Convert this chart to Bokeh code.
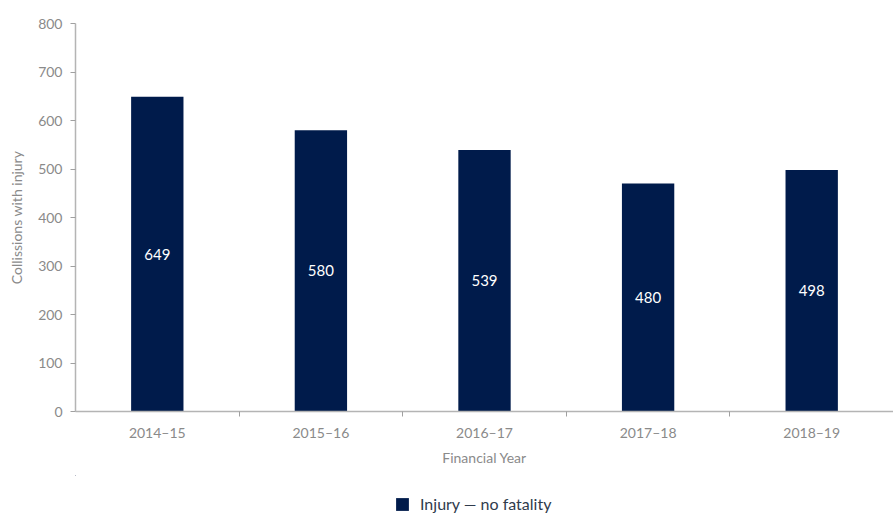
from bokeh.plotting import figure
from bokeh.layouts import column
from bokeh.models import ColumnDataSource, FixedTicker, Legend, LegendItem, Range1d
from bokeh.core.properties import value
from bokeh.embed import file_html
from bokeh.resources import INLINE

years = ["2014–15", "2015–16", "2016–17", "2017–18", "2018–19"]
collisions = [649, 580, 539, 470, 498]
bar_labels = ["649", "580", "539", "480", "498"]
series_name = "Injury — no fatality"
y_ticks = [0, 100, 200, 300, 400, 500, 600, 700, 800]

FONT = "Lato"
BAR = "#001b4b"
GREY = "#8a8a8a"

xs = [i + 0.5 for i in range(len(years))]
src = ColumnDataSource(dict(x=xs, top=collisions, mid=[v / 2 for v in collisions], lab=bar_labels))

p = figure(width=893, height=475, output_backend="svg", toolbar_location=None,
           x_range=Range1d(0, len(years)), y_range=Range1d(0, 800))
p.min_border_top = 23
p.min_border_left = 75
p.min_border_right = 0
p.min_border_bottom = 64
p.outline_line_color = None
p.grid.grid_line_color = None

r = p.vbar(x="x", top="top", width=0.32, bottom=0, source=src, fill_color=BAR, line_color=None)
p.text(x="x", y="mid", text="lab", source=src, text_color="white", text_align="center",
       text_baseline="middle", text_font=value(FONT), text_font_size="15px")

xa = p.xaxis[0]
xa.ticker = FixedTicker(ticks=xs, minor_ticks=[1, 2, 3, 4])
xa.major_label_overrides = {x: y for x, y in zip(xs, years)}
xa.major_tick_out = 0
xa.major_tick_in = 0
xa.minor_tick_out = 5
xa.minor_tick_in = 0
xa.minor_tick_line_color = "#a0a0a0"
xa.axis_line_color = "#b4b4b4"
xa.axis_line_width = 1.5
xa.major_label_text_font = FONT
xa.major_label_text_font_size = "14px"
xa.major_label_text_color = GREY
xa.major_label_standoff = 7
xa.axis_label = "Financial Year"
xa.axis_label_text_font = FONT
xa.axis_label_text_font_size = "14px"
xa.axis_label_text_font_style = "normal"
xa.axis_label_text_color = GREY
xa.axis_label_standoff = 5

ya = p.yaxis[0]
ya.ticker = FixedTicker(ticks=y_ticks)
ya.minor_tick_line_color = None
ya.major_tick_out = 5
ya.major_tick_in = 0
ya.major_tick_line_color = "#a0a0a0"
ya.axis_line_color = "#b4b4b4"
ya.axis_line_width = 1.5
ya.major_label_text_font = FONT
ya.major_label_text_font_size = "14px"
ya.major_label_text_color = GREY
ya.major_label_standoff = 8
ya.axis_label = "Collissions with injury"
ya.axis_label_text_font = FONT
ya.axis_label_text_font_size = "14px"
ya.axis_label_text_font_style = "normal"
ya.axis_label_text_color = GREY
ya.axis_label_standoff = 10

# legend strip below the chart (its bars lie far outside the strip's ranges)
lg = figure(width=893, height=38, output_backend="svg", toolbar_location=None,
            x_range=Range1d(100, 101), y_range=Range1d(-1001, -1000),
            min_border=0, outline_line_color=None)
lg.axis.visible = False
lg.grid.grid_line_color = None
lr = lg.vbar(x="x", top="top", width=0.32, bottom=0, source=src, fill_color=BAR, line_color=None)
legend = Legend(items=[LegendItem(label=series_name, renderers=[lr])],
                location=(319, 0), orientation="horizontal",
                label_text_font=FONT, label_text_font_size="16px", label_text_color="#2f3b4c",
                glyph_width=16, glyph_height=16, border_line_color=None,
                background_fill_alpha=0, padding=0, margin=0, spacing=0, label_standoff=10)
lg.add_layout(legend, "center")

open("out.html", "w").write(file_html(column(p, lg, spacing=0), INLINE))
